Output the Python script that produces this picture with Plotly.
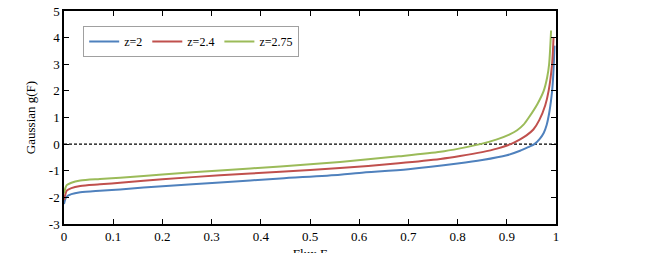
import plotly.graph_objects as go

# Data
F_z2 = [0, 0.002, 0.0055, 0.015, 0.033, 0.073, 0.114, 0.2, 0.317, 0.44, 0.561, 0.6, 0.7, 0.8, 0.85, 0.9, 0.927, 0.945, 0.956, 0.967, 0.975, 0.981, 0.986, 0.99, 0.993, 0.995, 0.997]
g_z2 = [-2.25, -2.1, -1.97, -1.88, -1.81, -1.75, -1.70, -1.58, -1.44, -1.29, -1.15, -1.08, -0.94, -0.73, -0.6, -0.42, -0.25, -0.1, 0.0, 0.2, 0.42, 0.72, 1.15, 1.65, 2.2, 2.8, 3.7]

F_z24 = [0, 0.002, 0.0055, 0.015, 0.033, 0.073, 0.114, 0.2, 0.317, 0.44, 0.561, 0.68, 0.765, 0.805, 0.85, 0.88, 0.908, 0.927, 0.94, 0.954, 0.966, 0.978, 0.985, 0.992, 0.995]
g_z24 = [-2.1, -1.95, -1.75, -1.65, -1.57, -1.51, -1.45, -1.32, -1.17, -1.04, -0.90, -0.72, -0.56, -0.45, -0.30, -0.17, 0.0, 0.18, 0.33, 0.55, 0.9, 1.45, 2.0, 3.0, 4.0]

F_z275 = [0, 0.002, 0.0055, 0.015, 0.033, 0.073, 0.114, 0.2, 0.317, 0.44, 0.561, 0.68, 0.765, 0.805, 0.846, 0.88, 0.905, 0.921, 0.934, 0.944, 0.962, 0.975, 0.982, 0.986, 0.99]
g_z275 = [-1.85, -1.7, -1.54, -1.45, -1.37, -1.31, -1.26, -1.14, -0.99, -0.84, -0.67, -0.46, -0.29, -0.16, 0.0, 0.18, 0.36, 0.52, 0.73, 0.98, 1.5, 2.0, 2.5, 3.0, 4.27]

series = [
    ("z=2", F_z2, g_z2, "#4F81BD"),
    ("z=2.4", F_z24, g_z24, "#C0504D"),
    ("z=2.75", F_z275, g_z275, "#9BBB59"),
]

x_ticks = [0, 0.1, 0.2, 0.3, 0.4, 0.5, 0.6, 0.7, 0.8, 0.9, 1]
x_tick_labels = ["0", "0.1", "0.2", "0.3", "0.4", "0.5", "0.6", "0.7", "0.8", "0.9", "1"]
y_ticks = [-3, -2, -1, 0, 1, 2, 3, 4, 5]
y_tick_labels = ["-3", "-2", "-1", "0", "1", "2", "3", "4", "5"]

fig = go.Figure()
fig.add_trace(go.Scatter(x=[0, 1], y=[0, 0], mode="lines",
                         line=dict(color="black", width=1.2, dash="3px,2px"),
                         showlegend=False, hoverinfo="skip"))
for name, xs, ys, col in series:
    fig.add_trace(go.Scatter(x=xs, y=ys, mode="lines", name=name,
                             line=dict(color=col, width=2, shape="spline", smoothing=0.8)))

font = dict(family="Liberation Serif, Times New Roman, serif", size=13, color="black")
axis_common = dict(showline=True, linecolor="black", linewidth=1.5, mirror="ticks",
                   ticks="inside", ticklen=5, tickcolor="black", tickwidth=1,
                   showgrid=False, zeroline=False, tickfont=font, automargin=False,
                   ticklabeloverflow="allow")
fig.update_xaxes(range=[0, 1], tickvals=x_ticks, ticktext=x_tick_labels,
                 title=dict(text="Flux F", font=font, standoff=10), **axis_common)
fig.update_yaxes(range=[-3, 5], tickvals=y_ticks, ticktext=y_tick_labels,
                 title=dict(text="Gaussian g(F)", font=font, standoff=10), **axis_common)

fig.update_layout(
    width=667, height=253,
    margin=dict(l=56, r=119, t=3, b=37),
    plot_bgcolor="white", paper_bgcolor="white",
    font=font,
    legend=dict(orientation="h", x=0.039, y=0.93, xanchor="left", yanchor="top",
                bordercolor="#A0A0A0", borderwidth=1, bgcolor="white",
                font=dict(family="Liberation Serif, Times New Roman, serif", size=12, color="black"),
                tracegroupgap=0),
    showlegend=True,
)

fig.write_html("out.html")
